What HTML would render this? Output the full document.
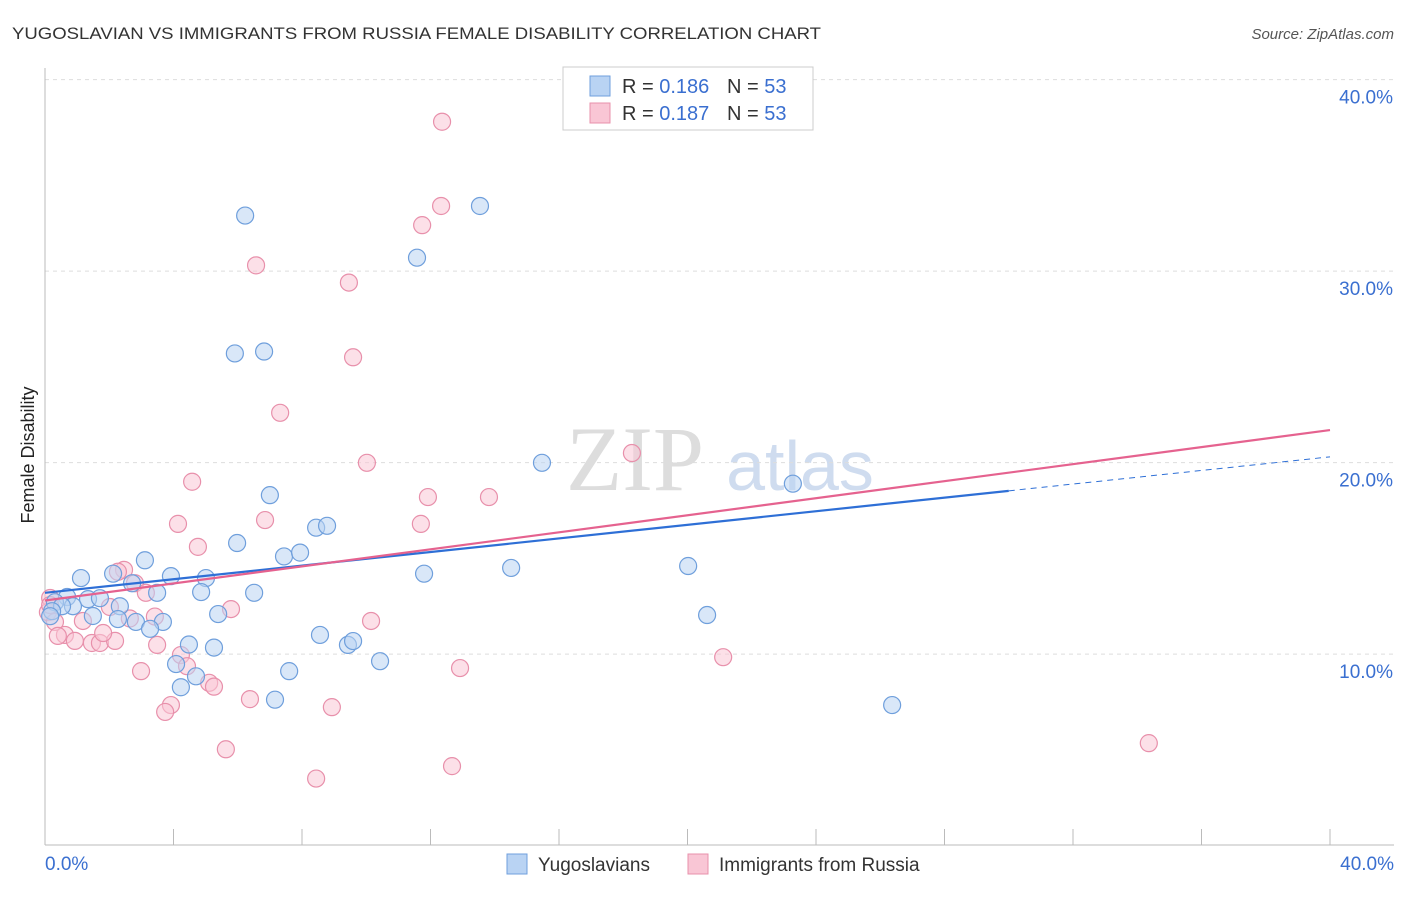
<!DOCTYPE html>
<html><head><meta charset="utf-8"><style>
body{margin:0;background:#fff;font-family:"Liberation Sans",sans-serif}
</style></head><body>
<svg width="1406" height="892" xmlns="http://www.w3.org/2000/svg" id="svg">
<text x="12" y="39" font-size="17" fill="#333" textLength="809" lengthAdjust="spacingAndGlyphs">YUGOSLAVIAN VS IMMIGRANTS FROM RUSSIA FEMALE DISABILITY CORRELATION CHART</text>
<text x="1394" y="39" font-size="15" fill="#555" font-style="italic" text-anchor="end">Source: ZipAtlas.com</text>
<text x="635" y="490" font-size="92" fill="#ddd" font-family="Liberation Serif,serif" text-anchor="middle">ZIP</text>
<text x="800" y="490" font-size="70" fill="#cfdcef" text-anchor="middle">atlas</text>
<text x="34" y="455" font-size="18" fill="#222" text-anchor="middle" transform="rotate(-90 34 455)">Female Disability</text>
<g id="grid"></g><g id="pts"></g><g id="lines"></g>
<g>
<rect x="563" y="67" width="250" height="63" fill="#fff" stroke="#ccc"/>
<rect x="590" y="76" width="20" height="20" fill="#b9d3f3" stroke="#6f9fdc"/>
<rect x="590" y="103" width="20" height="20" fill="#f9c6d5" stroke="#e890ab"/>
<text x="622" y="93" font-size="20" fill="#333">R = <tspan fill="#3a6fd0">0.186</tspan><tspan x="727">N = </tspan><tspan fill="#3a6fd0">53</tspan></text>
<text x="622" y="120" font-size="20" fill="#333">R = <tspan fill="#3a6fd0">0.187</tspan><tspan x="727">N = </tspan><tspan fill="#3a6fd0">53</tspan></text>
</g>
<g>
<rect x="507" y="854" width="20" height="20" fill="#b9d3f3" stroke="#6f9fdc"/>
<text x="538" y="871" font-size="19" fill="#333">Yugoslavians</text>
<rect x="688" y="854" width="20" height="20" fill="#f9c6d5" stroke="#e890ab"/>
<text x="719" y="871" font-size="19" fill="#333">Immigrants from Russia</text>
</g>
</svg>
<script>
const yTicks=[10,20,30,40];
const xTickLabels=["0.0%","40.0%"];
const blueX=[6.23,13.54,11.58,5.91,6.82,15.47,23.28,7.00,8.44,8.78,5.98,3.11,7.44,7.94,11.80,14.51,20.02,2.12,1.12,3.92,5.01,2.71,3.49,4.86,6.51,0.69,1.34,1.71,0.31,0.87,0.53,0.22,2.33,1.49,2.27,2.83,3.67,5.39,20.61,3.27,8.56,9.43,9.59,4.48,5.26,10.43,4.08,7.60,4.70,4.23,7.16,26.37,0.16];
const blueY=[32.9,33.4,30.7,25.7,25.8,19.99,18.9,18.3,16.6,16.7,15.8,14.9,15.1,15.3,14.2,14.5,14.6,14.2,13.97,14.07,13.97,13.7,13.2,13.24,13.2,12.98,12.87,12.92,12.71,12.5,12.5,12.24,12.5,11.99,11.83,11.68,11.68,12.09,12.04,11.32,11.0,10.48,10.68,10.5,10.34,9.63,9.48,9.11,8.84,8.27,7.62,7.34,11.98];
const pinkX=[12.36,12.33,11.74,6.57,9.46,9.59,7.32,10.02,18.27,4.58,11.92,13.82,6.85,4.14,11.70,4.76,2.46,2.27,2.80,3.14,2.02,3.42,2.64,0.16,0.09,0.31,1.18,0.62,0.40,0.93,1.46,1.71,2.18,1.81,5.79,10.15,3.49,4.23,4.42,12.92,21.11,2.99,5.11,5.26,6.38,8.93,3.92,3.74,5.63,8.44,12.67,34.36,0.16];
const pinkY=[37.8,33.4,32.4,30.3,29.4,25.5,22.6,19.99,20.5,19.0,18.2,18.2,17.0,16.8,16.8,15.6,14.4,14.3,13.7,13.2,12.46,11.96,11.86,12.93,12.19,11.68,11.73,11.0,10.95,10.69,10.58,10.58,10.69,11.1,12.35,11.73,10.48,9.95,9.37,9.27,9.84,9.11,8.5,8.3,7.65,7.23,7.34,6.98,5.03,3.5,4.15,5.35,12.56];
const blueTrend=[13.2,20.3];
const pinkTrend=[12.8,21.7];
const NS="http://www.w3.org/2000/svg";
const X=v=>45+v*32.125, Y=v=>845.6-v*19.15;
function mk(t,a,p){const e=document.createElementNS(NS,t);for(const k in a)e.setAttribute(k,a[k]);p.appendChild(e);return e;}
const grid=document.getElementById('grid');
for(const t of yTicks){
 const l=mk('line',{x1:45,x2:1394,y1:Y(t),y2:Y(t),stroke:'#ddd','stroke-dasharray':'4,4'},grid);
 
 
 const tx=mk('text',{x:1393,y:Y(t)+24,'font-size':19,fill:'#3a6fd0','text-anchor':'end'},grid);tx.textContent=t.toFixed(1)+'%';
 
 
}
mk('line',{x1:45,x2:45,y1:68,y2:845,stroke:'#bbb'},grid);
mk('line',{x1:45,x2:1394,y1:845,y2:845,stroke:'#bbb'},grid);
for(let i=0;i<=10;i++){const tk=mk('line',{x1:X(i*4),x2:X(i*4),y1:829,y2:845,stroke:'#bbb'},grid);
 
 }
const xl0=mk('text',{x:45,y:870,'font-size':19,fill:'#3a6fd0'},grid);xl0.textContent=xTickLabels[0];


const xl1=mk('text',{x:1394,y:870,'font-size':19,fill:'#3a6fd0','text-anchor':'end'},grid);xl1.textContent=xTickLabels[1];


const pts=document.getElementById('pts');
function draw(xs,ys,fill,stroke,name){for(let i=0;i<xs.length;i++){const c=mk('circle',{cx:X(xs[i]),cy:Y(ys[i]),r:8.5,fill:fill,'fill-opacity':0.55,stroke:stroke,'stroke-width':1.2},pts);
 
 }}
draw(pinkX,pinkY,'#f9c6d5','#e890ab','point-russia');
draw(blueX,blueY,'#b9d3f3','#6f9fdc','point-yugoslavian');
const ln=document.getElementById('lines');
const bx=30;const by=blueTrend[0]+(blueTrend[1]-blueTrend[0])*bx/40;
const b1=mk('line',{x1:X(0),y1:Y(blueTrend[0]),x2:X(bx),y2:Y(by),stroke:'#2e6fd6','stroke-width':2.2},ln);


const b2=mk('line',{x1:X(bx),y1:Y(by),x2:X(40),y2:Y(blueTrend[1]),stroke:'#2e6fd6','stroke-width':1,'stroke-dasharray':'6,5'},ln);


const p1=mk('line',{x1:X(0),y1:Y(pinkTrend[0]),x2:X(40),y2:Y(pinkTrend[1]),stroke:'#e5628f','stroke-width':2.2},ln);


</script>
</body></html>
